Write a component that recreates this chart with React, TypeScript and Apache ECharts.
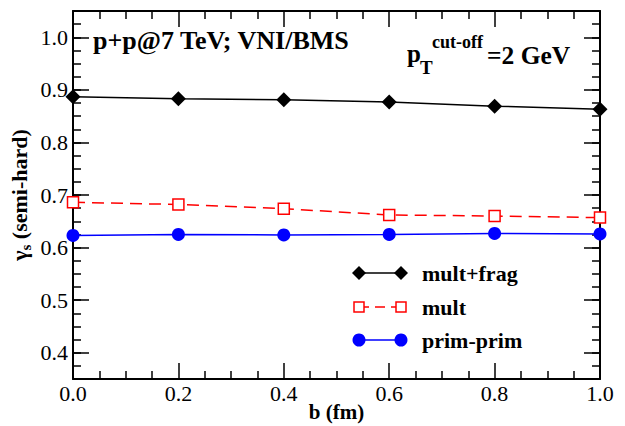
import React, { useEffect, useRef } from "react";
import * as echarts from "echarts";

const xValues = [0.0, 0.2, 0.4, 0.6, 0.8, 1.0];
const multFrag = [0.887, 0.883, 0.881, 0.877, 0.869, 0.863];
const mult = [0.686, 0.682, 0.674, 0.662, 0.66, 0.657];
const primPrim = [0.623, 0.625, 0.624, 0.625, 0.627, 0.626];
const seriesNames = ["mult+frag", "mult", "prim-prim"];
const seriesColors = ["#000000", "#ff0000", "#0000ff"];
const yTickValues = [0.4, 0.5, 0.6, 0.7, 0.8, 0.9, 1.0];

const FONT = "Liberation Serif";

export default function App() {
  const ref = useRef<HTMLDivElement>(null);

  useEffect(() => {
    document.body.style.margin = "0";
    const chart = echarts.init(ref.current as HTMLDivElement, null, { renderer: "svg" });
    const pts = (ys: number[]) => xValues.map((x, i) => [x, ys[i]]);

    const axisLine = { show: true, onZero: false, lineStyle: { color: "#000", width: 2 } };
    const majorTick = { show: true, inside: true, length: 16, lineStyle: { color: "#000", width: 1.5 } };

    const xAxisBase = (position: string, showLabel: boolean) => ({
      type: "value",
      position,
      min: 0,
      max: 1,
      interval: 0.2,
      axisLine,
      axisTick: majorTick,
      minorTick: { show: true, splitNumber: 4, length: 8, lineStyle: { color: "#000", width: 1.5 } },
      splitLine: { show: false },
      axisLabel: {
        show: showLabel,
        margin: 3,
        color: "#000",
        fontFamily: FONT,
        fontSize: 22,
        formatter: (v: number) => v.toFixed(1),
      },
    });

    const yMajor = (position: string, showLabel: boolean) => ({
      type: "value",
      position,
      min: 0.35,
      max: 1.05,
      interval: 0.025,
      axisLine,
      axisTick: { ...majorTick, customValues: yTickValues },
      splitLine: { show: false },
      axisLabel: {
        show: showLabel,
        customValues: yTickValues,
        margin: 5,
        color: "#000",
        fontFamily: FONT,
        fontSize: 22,
        formatter: (v: number) => v.toFixed(1),
      },
    });
    const yMinor = (position: string) => ({
      type: "value",
      position,
      min: 0.35,
      max: 1.05,
      interval: 0.025,
      axisLine: { show: false, onZero: false },
      axisTick: { show: true, inside: true, length: 8, lineStyle: { color: "#000", width: 1.5 } },
      splitLine: { show: false },
      axisLabel: { show: false },
    });

    const xAxisBottom: any = xAxisBase("bottom", true);
    xAxisBottom.name = "b (fm)";
    xAxisBottom.nameLocation = "middle";
    xAxisBottom.nameGap = 22;
    xAxisBottom.nameMoveOverlap = false;
    xAxisBottom.nameTextStyle = { fontFamily: FONT, fontSize: 21, fontWeight: "bold", color: "#000" };

    const yLeft: any = yMajor("left", true);
    yLeft.name = "{g|γ}{s|s}{n| (semi-hard)}";
    yLeft.nameLocation = "middle";
    yLeft.nameRotate = 90;
    yLeft.nameGap = 40;
    yLeft.nameMoveOverlap = false;
    yLeft.nameTextStyle = {
      color: "#000",
      rich: {
        g: { fontFamily: FONT, fontSize: 22, fontWeight: "bold", color: "#000" },
        s: { fontFamily: FONT, fontSize: 15, fontWeight: "bold", color: "#000", verticalAlign: "bottom", lineHeight: 28 },
        n: { fontFamily: FONT, fontSize: 22, fontWeight: "bold", color: "#000" },
      },
    };

    const legendRows = [273, 307, 340];
    const legendEls: any[] = [];
    seriesNames.forEach((name, i) => {
      const y = legendRows[i];
      const c = seriesColors[i];
      legendEls.push({
        type: "line",
        shape: { x1: 359, y1: y, x2: 401, y2: y },
        style: { stroke: c, lineWidth: 1.5, lineDash: i === 1 ? [10, 6] : null },
      });
      [359, 401].forEach((cx) => {
        if (i === 0) {
          legendEls.push({
            type: "polygon",
            shape: { points: [[cx - 7, y], [cx, y - 7], [cx + 7, y], [cx, y + 7]] },
            style: { fill: c },
          });
        } else if (i === 1) {
          legendEls.push({
            type: "rect",
            shape: { x: cx - 5, y: y - 5, width: 10, height: 10 },
            style: { fill: "#fff", stroke: c, lineWidth: 1.5 },
          });
        } else {
          legendEls.push({ type: "circle", shape: { cx, cy: y, r: 6.5 }, style: { fill: c } });
        }
      });
      legendEls.push({
        type: "text",
        x: 422,
        y,
        style: {
          text: name,
          fill: "#000",
          fontFamily: FONT,
          fontSize: 22,
          fontWeight: "bold",
          align: "left",
          verticalAlign: "middle",
        },
      });
    });

    const boldText = (text: string, x: number, y: number, size: number) => ({
      type: "text",
      x,
      y,
      style: { text, fill: "#000", fontFamily: FONT, fontSize: size, fontWeight: "bold", align: "left", verticalAlign: "middle" },
    });

    chart.setOption({
      animation: false,
      backgroundColor: "#fff",
      grid: { left: 73, right: 25, top: 11, bottom: 47, containLabel: false, outerBoundsMode: "none" },
      xAxis: [xAxisBottom, xAxisBase("top", false)],
      yAxis: [yLeft, yMinor("left"), yMajor("right", false), yMinor("right")],
      series: [
        {
          name: seriesNames[0],
          type: "line",
          data: pts(multFrag),
          xAxisIndex: 0,
          yAxisIndex: 0,
          clip: false,
          symbol: "diamond",
          symbolSize: 15,
          lineStyle: { color: seriesColors[0], width: 1.5 },
          itemStyle: { color: seriesColors[0] },
        },
        {
          name: seriesNames[1],
          type: "line",
          data: pts(mult),
          xAxisIndex: 0,
          yAxisIndex: 0,
          clip: false,
          symbol: "rect",
          symbolSize: 11,
          lineStyle: { color: seriesColors[1], width: 1.5, type: [12, 7] },
          itemStyle: { color: "#fff", borderColor: seriesColors[1], borderWidth: 1.5 },
        },
        {
          name: seriesNames[2],
          type: "line",
          data: pts(primPrim),
          xAxisIndex: 0,
          yAxisIndex: 0,
          clip: false,
          symbol: "circle",
          symbolSize: 13,
          lineStyle: { color: seriesColors[2], width: 1.5 },
          itemStyle: { color: seriesColors[2] },
        },
      ],
      graphic: [
        boldText("p+p@7 TeV; VNI/BMS", 93, 40, 26),
        boldText("p", 407, 53.5, 25),
        boldText("T", 420, 67.5, 19),
        boldText("cut-off", 432, 42, 18),
        boldText("=2 GeV", 487, 55, 25.5),
        ...legendEls,
      ],
    });

    return () => chart.dispose();
  }, []);

  return <div ref={ref} style={{ position: "fixed", left: 0, top: 0, width: 625, height: 426 }} />;
}
